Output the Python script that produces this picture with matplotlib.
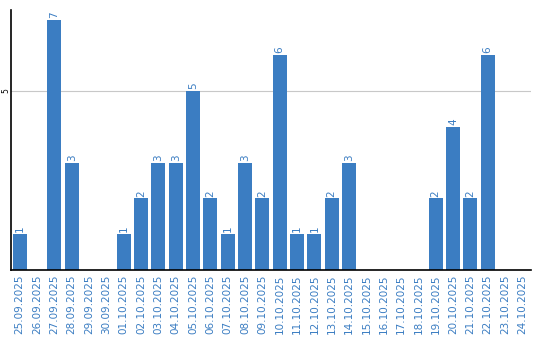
import matplotlib
matplotlib.use("Agg")
import matplotlib.pyplot as plt

# dates and counts
dates = ["25.09.2025", "26.09.2025", "27.09.2025", "28.09.2025", "29.09.2025",
         "30.09.2025", "01.10.2025", "02.10.2025", "03.10.2025", "04.10.2025",
         "05.10.2025", "06.10.2025", "07.10.2025", "08.10.2025", "09.10.2025",
         "10.10.2025", "11.10.2025", "12.10.2025", "13.10.2025", "14.10.2025",
         "15.10.2025", "16.10.2025", "17.10.2025", "18.10.2025", "19.10.2025",
         "20.10.2025", "21.10.2025", "22.10.2025", "23.10.2025", "24.10.2025"]
counts = [1, 0, 7, 3, 0, 0, 1, 2, 3, 3,
          5, 2, 1, 3, 2, 6, 1, 1, 2, 3,
          0, 0, 0, 0, 2, 4, 2, 6, 0, 0]

blue = "#3b7dc2"

fig = plt.figure(figsize=(5.4, 3.4), dpi=100)
ax = fig.add_axes([0.0204, 0.206, 0.963, 0.764])

x = list(range(len(dates)))
ax.bar(x, counts, width=0.8, color=blue, zorder=2)

# value labels above bars (only non-zero)
for i, c in zip(x, counts):
    if c > 0:
        ax.text(i, c + 0.05, str(c), rotation=90, ha="center", va="bottom",
                color=blue, fontsize=7.5)

ax.set_xlim(-0.5, len(dates) - 0.5)
ax.set_ylim(0, 7.26)
ax.set_xticks(x)
ax.set_xticklabels(dates, rotation=90, color=blue, fontsize=7.5)
ax.set_yticks([5])
ax.set_yticklabels(["5"], rotation=90, va="center", fontsize=5.5)
ax.tick_params(axis="x", length=0, pad=3)
ax.tick_params(axis="y", length=0, pad=0.5)
ax.yaxis.grid(True, color="#c8c8c8", linewidth=0.8, zorder=0)

ax.spines["top"].set_visible(False)
ax.spines["right"].set_visible(False)
ax.spines["left"].set_linewidth(1.2)
ax.spines["bottom"].set_linewidth(1.2)

fig.savefig("out.png", dpi=100)
